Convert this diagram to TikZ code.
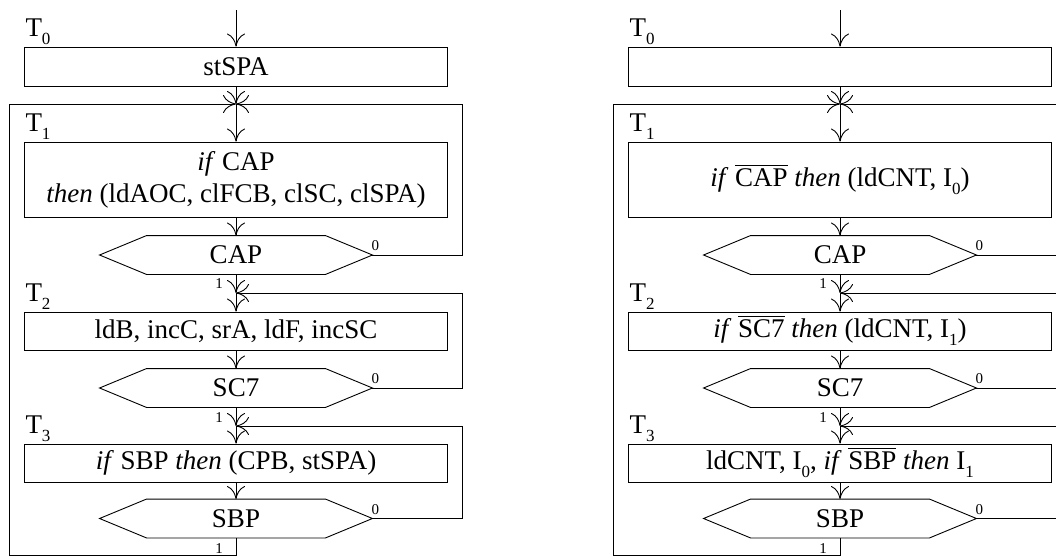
\documentclass[tikz,border=0pt]{standalone}
\usepackage{fontspec}
\setmainfont{Liberation Serif}
\usetikzlibrary{arrows.meta,calc}
\newsavebox\ovlbox
\newcommand\ovl[1]{\sbox\ovlbox{#1}\rlap{\raisebox{\dimexpr\ht\ovlbox+2.5pt\relax}{\rule{\wd\ovlbox}{0.9pt}}}\usebox\ovlbox}
\newcommand\lowsub[1]{\raisebox{-8pt}{\fontsize{17}{17}\selectfont #1}}
\newcommand\hexdraw[1]{\draw (#1.west) -- ([xshift=47pt]#1.north west) -- ([xshift=-47pt]#1.north east) -- (#1.east) -- ([xshift=-47pt]#1.south east) -- ([xshift=47pt]#1.south west) -- cycle;}
\newcommand\onechart[6]{%
\begin{scope}[xshift=#2]
  \coordinate (#1top) at (236,10);
  \coordinate (#1m1) at (236,104);
  \coordinate (#1m2) at (236,293);
  \coordinate (#1m3) at (236,426);
  \coordinate (#1bot) at (236,555);
  \coordinate (#1rx) at (462,0);
  \coordinate (#1lx) at (9,0);
  \node[box, minimum height=39pt] (#1b0) at (236,66.5) {#3};
  \node[box, minimum height=75pt] (#1b1) at (236,179.5) {#4};
  \node[box, minimum height=38pt] (#1b2) at (236,331) {#5};
  \node[box, minimum height=38pt] (#1b3) at (236,463) {#6};
  \node[hexn] (#1h1) at (236,255) {CAP};
  \node[hexn] (#1h2) at (236,388) {SC7};
  \node[hexn] (#1h3) at (236,518.5) {SBP};
  \hexdraw{#1h1}
  \hexdraw{#1h2}
  \hexdraw{#1h3}
  \node[tlab] (#1t0) at ([xshift=1pt,yshift=10pt]#1b0.north west) {T\lowsub{0}};
  \node[tlab] (#1t1) at ([xshift=1pt,yshift=10pt]#1b1.north west) {T\lowsub{1}};
  \node[tlab] (#1t2) at ([xshift=1pt,yshift=10pt]#1b2.north west) {T\lowsub{2}};
  \node[tlab] (#1t3) at ([xshift=1pt,yshift=10pt]#1b3.north west) {T\lowsub{3}};
  \node[lab] (#1z1) at ([xshift=3pt,yshift=9pt]#1h1.east) {0};
  \node[lab] (#1z2) at ([xshift=3pt,yshift=9pt]#1h2.east) {0};
  \node[lab] (#1z3) at ([xshift=3pt,yshift=9pt]#1h3.east) {0};
  \node[lab] (#1o1) at ([xshift=-17pt,yshift=-9pt]#1h1.south) {1};
  \node[lab] (#1o2) at ([xshift=-17pt,yshift=-10pt]#1h2.south) {1};
  \node[lab] (#1o3) at ([xshift=-17pt,yshift=-11pt]#1h3.south) {1};
  \draw[flow] (#1top) -- (#1b0);
  \draw[flow] (#1b0) -- (#1m1);
  \draw[flow] (#1m1) -- (#1b1);
  \draw[flow] (#1b1) -- (#1h1);
  \draw[flow] (#1h1.east) -| (#1rx |- #1m1) -- (#1m1);
  \draw[flow] (#1h1) -- (#1m2);
  \draw[flow] (#1m2) -- (#1b2);
  \draw[flow] (#1b2) -- (#1h2);
  \draw[flow] (#1h2.east) -| (#1rx |- #1m2) -- (#1m2);
  \draw[flow] (#1h2) -- (#1m3);
  \draw[flow] (#1m3) -- (#1b3);
  \draw[flow] (#1b3) -- (#1h3);
  \draw[flow] (#1h3.east) -| (#1rx |- #1m3) -- (#1m3);
  \draw[flow] (#1h3.south) -- (#1bot) -| (#1lx |- #1m1) -- (#1m1);
\end{scope}}
\begin{document}
\begin{tikzpicture}[x=1pt, y=-1pt, line width=0.9pt,
  flow/.style={-{Computer Modern Rightarrow[length=13pt,width=18pt]}},
  box/.style={draw, minimum width=423pt, inner sep=0pt, align=center, font=\fontsize{27}{32}\selectfont},
  hexn/.style={minimum width=272pt, minimum height=38pt, inner sep=0pt, font=\fontsize{27}{32}\selectfont},
  tlab/.style={anchor=base west, inner sep=0pt, font=\fontsize{27}{32}\selectfont},
  lab/.style={inner sep=0pt, font=\fontsize{15}{15}\selectfont}]
  \useasboundingbox (0,0) rectangle (1056,557);
  \clip (0,0) rectangle (1056,557);
  \onechart{L}{0pt}{stSPA}{\textit{if} CAP\\\textit{then} (ldAOC, clFCB, clSC, clSPA)}{ldB, incC, srA, ldF, incSC}{\textit{if} SBP \textit{then} (CPB, stSPA)}
  \onechart{R}{604pt}{}{\textit{if} \ovl{CAP} \textit{then} (ldCNT, I\lowsub{0})}{\textit{if} \ovl{SC7} \textit{then} (ldCNT, I\lowsub{1})}{ldCNT, I\lowsub{0}, \textit{if} \ovl{SBP} \textit{then} I\lowsub{1}}
\end{tikzpicture}
\end{document}
